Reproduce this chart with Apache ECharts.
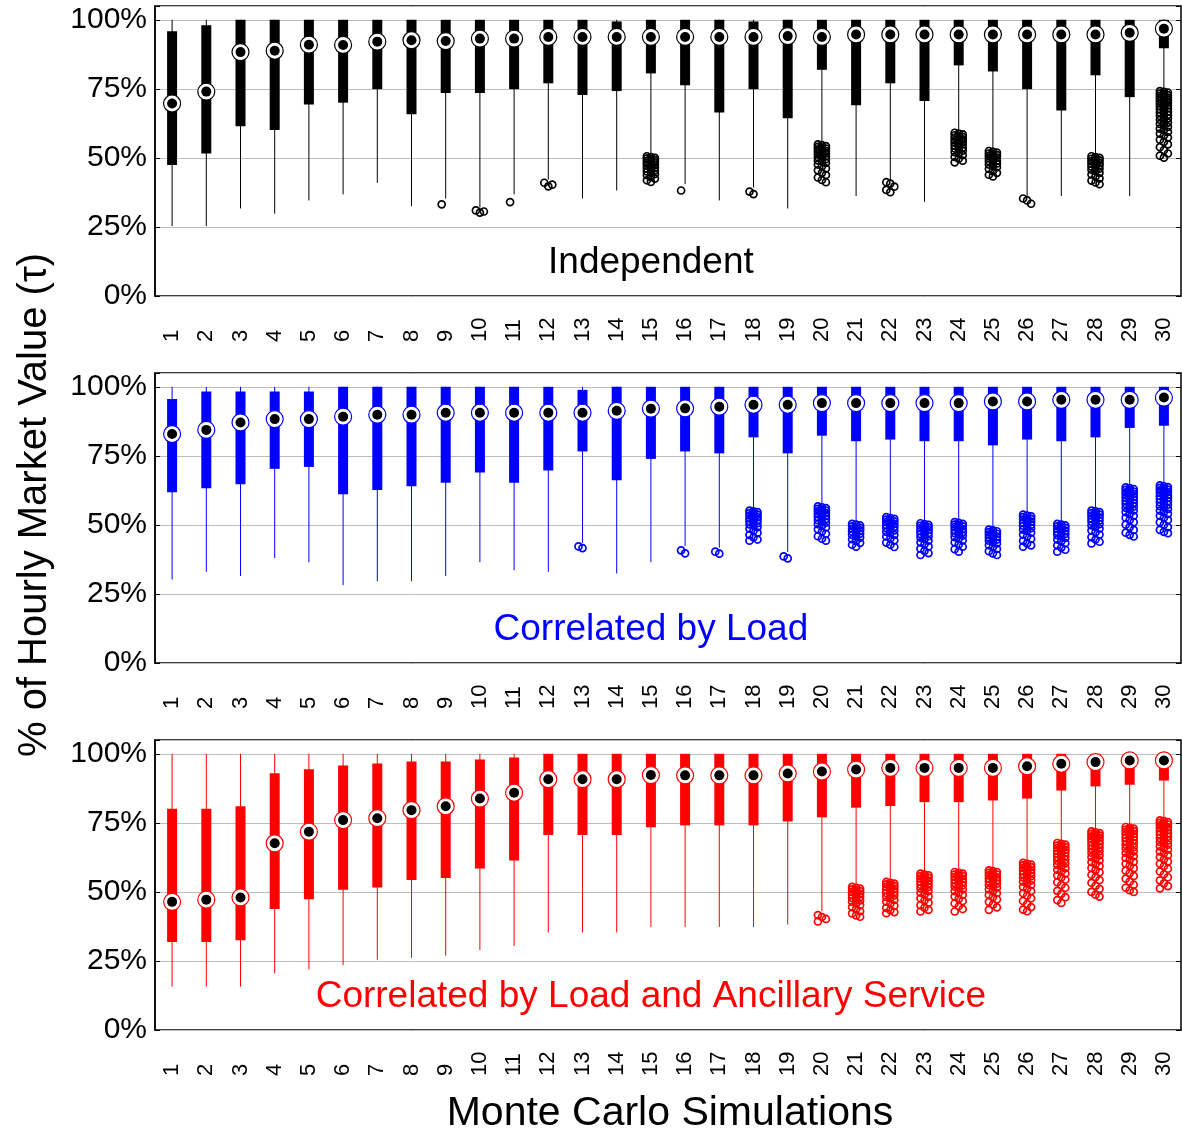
<!DOCTYPE html>
<html>
<head>
<meta charset="utf-8">
<script src="https://cdn.jsdelivr.net/npm/echarts@6/dist/echarts.min.js"></script>
<style>
  html, body { margin: 0; padding: 0; background: #fff; }
  #chart { width: 1182px; height: 1134px; }
</style>
</head>
<body>
<div id="chart"></div>
<script>
// Simulation labels (x axis)
const sims = ['1','2','3','4','5','6','7','8','9','10','11','12','13','14','15',
              '16','17','18','19','20','21','22','23','24','25','26','27','28','29','30'];
const yTicks = [0, 25, 50, 75, 100];

// ---- Independent ----
const indepHigh = [100,100,100,100,100,100,100,100,100,100,100,100,100,100,100,100,100,100,100,100,100,100,100,100,100,100,100,100,100,100];
const indepQ3 = [95.9,98.0,100,100,100,100,100,100,100,100,100,100,100,99.4,100,100,100,99.4,100,100,100,100,100,100,100,100,100,100,100,100];
const indepMed = [69.7,74.0,88.3,88.8,91.0,90.9,92.1,92.6,92.3,93.2,93.2,93.8,93.8,93.8,93.8,93.8,93.8,93.8,94.1,93.8,94.7,94.7,94.7,94.7,94.7,94.7,94.7,94.7,95.3,96.8];
const indepQ1 = [47.4,51.6,61.5,60.1,69.3,70.0,74.9,65.8,73.5,73.5,74.9,77.0,72.8,74.2,80.6,76.3,66.4,74.9,64.4,81.9,69.1,77.0,70.6,83.5,81.3,74.9,67.2,79.9,72.0,89.7];
const indepLow = [25.3,25.3,31.7,29.8,34.6,36.8,41.0,32.5,35.3,32.0,36.8,42.2,35.3,38.2,51.0,40.5,34.6,39.3,31.7,55.3,36.2,42.0,34.1,59.5,52.9,36.0,36.2,51.0,36.2,74.6];
const indepOut = [
  [], [], [], [], [], [], [], [],
  [33.2],
  [31.0, 30.2, 30.6],
  [34.0],
  [41.0, 39.7, 40.3],
  [], [],
  [50.6, 50.3, 50.0, 49.8, 49.5, 49.2, 48.9, 48.7, 48.4, 48.1, 47.8, 47.5, 47.2, 46.9, 46.5, 46.2, 45.8, 45.5, 45.1, 44.7, 44.2, 43.8, 43.1, 42.5, 41.9, 41.3],
  [38.2],
  [],
  [37.8, 36.9],
  [],
  [54.9, 54.6, 54.3, 54.0, 53.7, 53.4, 53.1, 52.8, 52.5, 52.2, 51.9, 51.6, 51.3, 51.0, 50.6, 50.3, 49.9, 49.5, 49.1, 48.7, 48.2, 47.6, 47.0, 46.2, 45.5, 44.6, 43.8, 42.9, 42.0, 41.2],
  [],
  [41.2, 40.7, 39.6, 38.4, 37.6],
  [],
  [59.1, 58.8, 58.5, 58.2, 57.9, 57.6, 57.3, 57.0, 56.7, 56.4, 56.1, 55.8, 55.5, 55.2, 54.9, 54.5, 54.2, 53.8, 53.4, 53.0, 52.6, 52.1, 51.6, 51.0, 50.4, 49.7, 49.0, 48.4],
  [52.5, 52.2, 51.9, 51.6, 51.3, 51.0, 50.7, 50.4, 50.1, 49.8, 49.5, 49.1, 48.8, 48.4, 48.0, 47.6, 47.1, 46.6, 46.0, 45.3, 44.6, 43.9, 43.3],
  [35.3, 34.6, 33.4],
  [],
  [50.6, 50.3, 50.0, 49.7, 49.4, 49.1, 48.8, 48.5, 48.2, 47.9, 47.6, 47.3, 46.9, 46.5, 46.1, 45.7, 45.2, 44.6, 44.0, 43.3, 42.6, 41.8, 41.1, 40.5],
  [],
  [74.2, 73.9, 73.6, 73.3, 73.0, 72.7, 72.4, 72.1, 71.8, 71.5, 71.2, 70.9, 70.6, 70.3, 70.0, 69.7, 69.4, 69.0, 68.7, 68.3, 68.0, 67.6, 67.2, 66.8, 66.4, 66.0, 65.6, 65.2, 64.7, 64.3, 63.8, 63.3, 62.8, 62.3, 61.8, 61.2, 60.6, 60.0, 59.4, 58.8, 58.1, 57.4, 56.6, 55.8, 54.9, 53.9, 52.8, 51.6, 50.8, 50.1]
];

// ---- Correlated by Load ----
const loadHigh = [100,100,100,100,100,100,100,100,100,100,100,100,100,100,100,100,100,100,100,100,100,100,100,100,100,100,100,100,100,100];
const loadQ3 = [95.6,98.3,98.3,98.3,98.3,100,100,100,100,100,100,100,98.9,100,100,100,100,100,100,100,100,100,100,100,100,100,100,100,100,100];
const loadMed = [82.9,84.4,87.1,88.3,88.3,89.2,89.9,89.9,90.6,90.6,90.6,90.6,90.6,91.3,92.1,92.2,92.8,93.5,93.5,94.1,94.1,94.1,94.1,94.1,94.7,94.7,95.3,95.3,95.3,96.1];
const loadQ1 = [61.8,63.3,64.7,70.3,71.0,61.1,62.6,64.0,65.3,69.0,65.3,69.7,76.6,66.2,73.9,76.6,75.9,81.7,75.9,82.3,80.3,80.9,80.3,80.3,78.8,80.9,80.3,81.7,85.1,85.9];
const loadLow = [30.2,33.0,31.5,38.0,36.5,28.2,29.6,29.6,31.5,36.5,33.6,33.0,43.5,32.4,36.5,42.3,41.8,55.5,40.2,57.0,50.7,53.1,50.9,51.3,48.6,54.0,50.7,55.5,63.9,64.6];
const loadOut = [
  [], [], [], [], [], [], [], [], [], [], [], [],
  [42.2, 41.6],
  [], [],
  [40.8, 39.7],
  [40.3, 39.6],
  [55.2, 54.9, 54.6, 54.3, 54.0, 53.7, 53.4, 53.1, 52.8, 52.4, 52.1, 51.8, 51.4, 51.0, 50.6, 50.2, 49.7, 49.2, 48.6, 47.9, 47.2, 46.4, 45.5, 44.7, 44.3],
  [38.6, 37.9],
  [56.7, 56.4, 56.1, 55.8, 55.5, 55.2, 54.9, 54.6, 54.3, 53.9, 53.6, 53.3, 52.9, 52.5, 52.1, 51.7, 51.3, 50.8, 50.3, 49.7, 49.1, 48.4, 47.6, 46.8, 45.9, 45.0, 44.3],
  [50.4, 50.1, 49.8, 49.5, 49.2, 48.9, 48.6, 48.3, 48.0, 47.6, 47.2, 46.8, 46.4, 45.9, 45.4, 44.8, 44.2, 43.5, 42.8, 42.1],
  [52.8, 52.5, 52.2, 51.9, 51.6, 51.3, 51.0, 50.7, 50.4, 50.0, 49.6, 49.3, 48.9, 48.5, 48.0, 47.5, 47.0, 46.4, 45.8, 45.1, 44.4, 43.6, 42.8, 42.0],
  [50.6, 50.3, 50.0, 49.7, 49.4, 49.1, 48.8, 48.5, 48.2, 47.8, 47.5, 47.1, 46.7, 46.3, 45.9, 45.4, 44.9, 44.3, 43.7, 43.0, 42.2, 41.4, 40.6, 39.8, 39.1],
  [51.0, 50.7, 50.4, 50.1, 49.8, 49.5, 49.2, 48.9, 48.5, 48.2, 47.8, 47.4, 47.0, 46.6, 46.1, 45.6, 45.0, 44.4, 43.7, 42.9, 42.1, 41.2, 40.3],
  [48.3, 48.0, 47.7, 47.4, 47.1, 46.8, 46.5, 46.2, 45.8, 45.5, 45.1, 44.7, 44.3, 43.8, 43.3, 42.7, 42.0, 41.3, 40.5, 39.7, 39.1],
  [53.7, 53.4, 53.1, 52.8, 52.5, 52.2, 51.9, 51.6, 51.2, 50.9, 50.5, 50.1, 49.7, 49.3, 48.8, 48.3, 47.8, 47.2, 46.5, 45.8, 45.0, 44.2, 43.3, 42.6, 42.1],
  [50.4, 50.1, 49.8, 49.5, 49.2, 48.9, 48.6, 48.2, 47.9, 47.5, 47.1, 46.7, 46.3, 45.8, 45.3, 44.7, 44.1, 43.4, 42.6, 41.8, 41.0, 40.3],
  [55.2, 54.9, 54.6, 54.3, 54.0, 53.7, 53.4, 53.0, 52.7, 52.3, 52.0, 51.6, 51.2, 50.8, 50.3, 49.8, 49.3, 48.7, 48.0, 47.3, 46.5, 45.6, 44.7, 43.9, 43.3],
  [63.6, 63.3, 63.0, 62.7, 62.4, 62.1, 61.8, 61.5, 61.2, 60.9, 60.6, 60.2, 59.9, 59.5, 59.2, 58.8, 58.4, 58.0, 57.6, 57.1, 56.7, 56.2, 55.7, 55.2, 54.6, 54.0, 53.3, 52.6, 51.8, 51.0, 50.1, 49.2, 48.2, 47.2, 46.4, 45.8],
  [64.3, 64.0, 63.7, 63.4, 63.1, 62.8, 62.5, 62.2, 61.9, 61.6, 61.2, 60.9, 60.5, 60.2, 59.8, 59.4, 59.0, 58.6, 58.2, 57.7, 57.3, 56.8, 56.3, 55.8, 55.2, 54.6, 54.0, 53.3, 52.6, 51.8, 51.0, 50.1, 49.2, 48.2, 47.5, 47.0]
];

// ---- Correlated by Load and Ancillary Service ----
const ancHigh = [100,100,100,100,100,100,100,100,100,100,100,100,100,100,100,100,100,100,100,100,100,100,100,100,100,100,100,100,100,100];
const ancQ3 = [80.1,80.1,81.0,93.0,94.4,95.8,96.5,97.2,97.2,97.9,98.7,100,100,100,100,100,100,100,100,100,100,100,100,100,100,100,100,100,100,100];
const ancMed = [46.4,47.2,48.0,67.6,71.8,76.0,76.7,79.6,81.0,83.8,85.9,90.8,90.8,90.8,92.3,92.2,92.2,92.2,92.9,93.6,94.3,94.9,94.9,94.9,94.9,95.5,96.4,97.0,97.6,97.6];
const ancQ1 = [31.9,31.9,32.5,43.8,47.3,50.8,51.6,54.3,55.0,58.5,61.4,70.6,70.6,70.6,73.4,74.1,74.1,74.1,75.5,77.0,80.5,81.1,82.5,82.5,83.1,83.8,86.7,88.2,88.8,90.3];
const ancLow = [15.7,15.7,15.7,20.5,21.9,23.5,25.4,26.1,26.9,28.9,30.4,35.3,35.3,35.3,37.3,37.3,37.3,37.3,38.2,43.0,52.1,53.9,56.9,57.5,58.1,60.8,68.0,72.2,73.8,76.2];
const ancOut = [
  [], [], [], [], [], [], [], [], [], [], [], [], [], [], [], [], [], [], [],
  [41.6, 40.9, 40.2, 39.3],
  [51.8, 51.5, 51.2, 50.9, 50.6, 50.3, 50.0, 49.7, 49.3, 49.0, 48.6, 48.2, 47.8, 47.4, 46.9, 46.4, 45.8, 45.2, 44.5, 43.8, 43.0, 42.2, 41.5, 41.0],
  [53.6, 53.3, 53.0, 52.7, 52.4, 52.1, 51.8, 51.4, 51.1, 50.7, 50.4, 50.0, 49.6, 49.2, 48.7, 48.2, 47.7, 47.1, 46.5, 45.8, 45.0, 44.2, 43.4, 42.7, 42.3],
  [56.6, 56.3, 56.0, 55.7, 55.4, 55.1, 54.8, 54.4, 54.1, 53.7, 53.4, 53.0, 52.6, 52.2, 51.8, 51.3, 50.8, 50.3, 49.7, 49.1, 48.4, 47.7, 46.9, 46.1, 45.2, 44.3, 43.5, 42.9],
  [57.2, 56.9, 56.6, 56.3, 56.0, 55.7, 55.4, 55.0, 54.7, 54.3, 54.0, 53.6, 53.2, 52.8, 52.4, 51.9, 51.4, 50.9, 50.3, 49.7, 49.0, 48.3, 47.5, 46.7, 45.8, 44.8, 43.8, 42.9],
  [57.8, 57.5, 57.2, 56.9, 56.6, 56.3, 56.0, 55.6, 55.3, 54.9, 54.6, 54.2, 53.8, 53.4, 53.0, 52.5, 52.0, 51.5, 50.9, 50.3, 49.6, 48.9, 48.1, 47.3, 46.4, 45.4, 44.4, 43.5],
  [60.5, 60.2, 59.9, 59.6, 59.3, 59.0, 58.7, 58.3, 58.0, 57.6, 57.3, 56.9, 56.5, 56.1, 55.7, 55.2, 54.7, 54.2, 53.7, 53.1, 52.5, 51.8, 51.1, 50.3, 49.5, 48.6, 47.7, 46.7, 45.6, 44.5, 43.6, 43.0],
  [67.7, 67.4, 67.1, 66.8, 66.5, 66.2, 65.9, 65.6, 65.2, 64.9, 64.5, 64.2, 63.8, 63.4, 63.0, 62.6, 62.2, 61.7, 61.3, 60.8, 60.3, 59.8, 59.2, 58.6, 58.0, 57.4, 56.7, 56.0, 55.2, 54.4, 53.5, 52.5, 51.5, 50.4, 49.3, 48.1, 47.0, 46.0],
  [71.9, 71.6, 71.3, 71.0, 70.7, 70.4, 70.1, 69.8, 69.5, 69.1, 68.8, 68.4, 68.1, 67.7, 67.3, 66.9, 66.5, 66.1, 65.6, 65.2, 64.7, 64.2, 63.7, 63.2, 62.6, 62.0, 61.4, 60.8, 60.1, 59.4, 58.7, 57.9, 57.1, 56.2, 55.3, 54.3, 53.3, 52.2, 51.1, 50.0, 49.0, 48.3],
  [73.5, 73.2, 72.9, 72.6, 72.3, 72.0, 71.7, 71.4, 71.0, 70.7, 70.3, 70.0, 69.6, 69.2, 68.8, 68.4, 68.0, 67.6, 67.1, 66.7, 66.2, 65.7, 65.2, 64.7, 64.1, 63.5, 62.9, 62.3, 61.6, 60.9, 60.2, 59.4, 58.6, 57.7, 56.8, 55.8, 54.8, 53.7, 52.6, 51.5, 50.6, 50.0],
  [75.9, 75.6, 75.3, 75.0, 74.7, 74.4, 74.1, 73.8, 73.4, 73.1, 72.7, 72.4, 72.0, 71.6, 71.2, 70.8, 70.4, 70.0, 69.5, 69.1, 68.6, 68.1, 67.6, 67.1, 66.5, 65.9, 65.3, 64.7, 64.0, 63.3, 62.6, 61.8, 61.0, 60.2, 59.3, 58.4, 57.4, 56.4, 55.3, 54.2, 53.1, 52.1, 51.3]
];

const FONT = '"Liberation Sans", Arial, Helvetica, sans-serif';

const panels = [
  { name: 'Independent', color: '#000000', low: indepLow, q1: indepQ1, med: indepMed, q3: indepQ3, high: indepHigh, out: indepOut },
  { name: 'Correlated by Load', color: '#0000ff', low: loadLow, q1: loadQ1, med: loadMed, q3: loadQ3, high: loadHigh, out: loadOut },
  { name: 'Correlated by Load and Ancillary Service', color: '#ff0000', low: ancLow, q1: ancQ1, med: ancMed, q3: ancQ3, high: ancHigh, out: ancOut }
];

// Panel layout
const gridTops = [6, 373, 740];
const gridHeight = 290;
const boxWidth = 10;
// horizontal spread of overlapping outlier circles (px)
const spread = [-4, 0, 4];

const grids = [], xAxes = [], yAxes = [], series = [];

panels.forEach((p, k) => {
  grids.push({
    left: 155, right: 1, top: gridTops[k], height: gridHeight,
    show: true, borderColor: '#000', borderWidth: 1.5, backgroundColor: '#fff'
  });
  xAxes.push({
    type: 'category', gridIndex: k, data: sims, boundaryGap: true,
    axisLine: { show: false }, axisTick: { show: false },
    axisLabel: {
      interval: 0, rotate: 90, align: 'left', verticalAlign: 'middle', margin: 46,
      fontSize: 22, color: '#000', fontFamily: FONT
    },
    splitLine: { show: false }
  });
  yAxes.push({
    type: 'value', gridIndex: k, min: 0, max: 105, interval: 25,
    axisLine: { show: true, lineStyle: { color: '#000', width: 1.5 } },
    axisTick: { show: true, inside: true, length: 5, lineStyle: { color: '#000' } },
    axisLabel: {
      margin: 8, fontSize: 30, color: '#000', fontFamily: FONT,
      formatter: v => (yTicks.indexOf(v) >= 0 ? v + '%' : '')
    },
    splitLine: { show: true, lineStyle: { color: '#bdbdbd', width: 1 } }
  });
  yAxes.push({
    type: 'value', gridIndex: k, position: 'right', min: 0, max: 105, interval: 25,
    axisLine: { show: false },
    axisTick: { show: true, inside: true, length: 5, lineStyle: { color: '#000' } },
    axisLabel: { show: false },
    splitLine: { show: false }
  });

  const color = p.color;
  const yIdx = 2 * k;

  // whisker + thick box
  series.push({
    type: 'custom', xAxisIndex: k, yAxisIndex: yIdx, z: 2, silent: true,
    data: sims.map((s, i) => [i, p.low[i], p.q1[i], p.q3[i], p.high[i]]),
    encode: { x: 0, y: [1, 2, 3, 4] },
    renderItem: (params, api) => {
      const i = api.value(0);
      const lo = api.coord([i, api.value(1)]);
      const b1 = api.coord([i, api.value(2)]);
      const b3 = api.coord([i, api.value(3)]);
      const hi = api.coord([i, api.value(4)]);
      return {
        type: 'group',
        children: [
          { type: 'line', shape: { x1: lo[0], y1: lo[1], x2: hi[0], y2: hi[1] },
            style: { stroke: color, lineWidth: 1 } },
          { type: 'rect', shape: { x: b1[0] - boxWidth / 2, y: b3[1], width: boxWidth, height: b1[1] - b3[1] },
            style: { fill: color } }
        ]
      };
    }
  });

  // outliers: hollow circles
  const outData = [];
  p.out.forEach((vals, i) => {
    vals.forEach((v, j) => {
      outData.push({ value: [i, v], symbolOffset: [spread[j % spread.length], 0] });
    });
  });
  series.push({
    type: 'scatter', xAxisIndex: k, yAxisIndex: yIdx, z: 3, silent: true,
    symbol: 'circle', symbolSize: 7,
    itemStyle: { color: 'rgba(255,255,255,0)', borderColor: color, borderWidth: 1.7, opacity: 1 },
    data: outData
  });

  // median: white ring + black dot
  const medData = sims.map((s, i) => [i, p.med[i]]);
  series.push({
    type: 'scatter', xAxisIndex: k, yAxisIndex: yIdx, z: 4, silent: true,
    symbol: 'circle', symbolSize: 17,
    itemStyle: { color: '#fff', borderColor: color, borderWidth: 1.2, opacity: 1 },
    data: medData
  });
  series.push({
    type: 'scatter', xAxisIndex: k, yAxisIndex: yIdx, z: 5, silent: true,
    symbol: 'circle', symbolSize: 10,
    itemStyle: { color: '#000', opacity: 1 },
    data: medData
  });

  // panel caption, anchored at simulation 15
  series.push({
    type: 'scatter', xAxisIndex: k, yAxisIndex: yIdx, z: 6, silent: true,
    symbolSize: 1, itemStyle: { color: 'rgba(0,0,0,0)', opacity: 1 },
    data: [[14, 12]],
    label: {
      show: true, position: 'inside', formatter: p.name, opacity: 1,
      fontSize: 37, color: color, fontFamily: FONT
    }
  });
});

const chart = echarts.init(document.getElementById('chart'), null, { renderer: 'canvas' });
chart.setOption({
  animation: false,
  backgroundColor: '#fff',
  grid: grids,
  xAxis: xAxes,
  yAxis: yAxes,
  series: series,
  graphic: [
    {
      type: 'text', x: 35, y: 505, rotation: Math.PI / 2,
      style: { text: '% of Hourly Market Value (τ)', font: '40px ' + FONT, fill: '#000',
               textAlign: 'center', textVerticalAlign: 'middle' }
    },
    {
      type: 'text', x: 670, y: 1114,
      style: { text: 'Monte Carlo Simulations', font: '41px ' + FONT, fill: '#000',
               textAlign: 'center', textVerticalAlign: 'middle' }
    }
  ]
});
</script>
</body>
</html>
